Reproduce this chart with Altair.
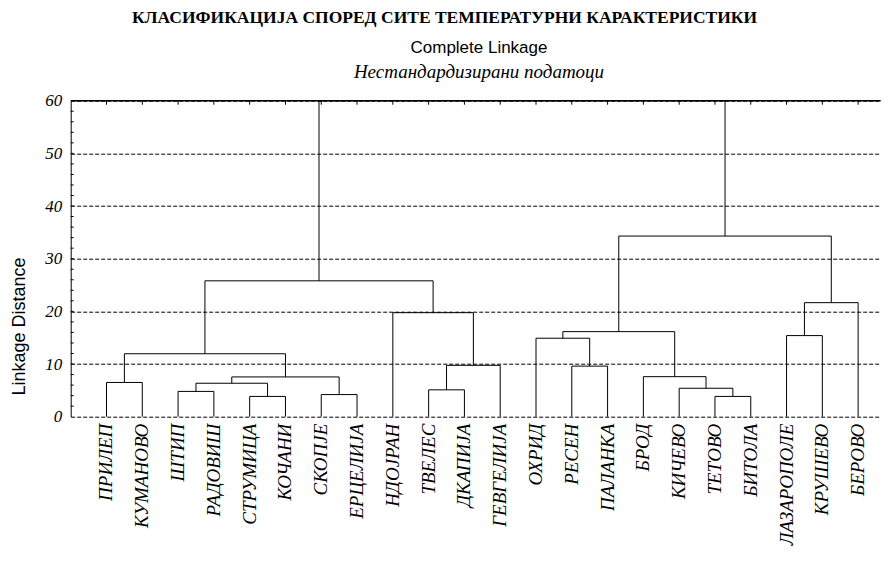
import altair as alt
import pandas as pd

# ---------------- data ----------------
leaves = ["ПРИЛЕП", "КУМАНОВО", "ШТИП", "РАДОВИШ", "СТРУМИЦА", "КОЧАНИ",
          "СКОПЈЕ", "ЕРЦЕЛИЈА", "НДОЈРАН", "ТВЕЛЕС", "ДКАПИЈА", "ГЕВГЕЛИЈА",
          "ОХРИД", "РЕСЕН", "ПАЛАНКА", "БРОД", "КИЧЕВО", "ТЕТОВО", "БИТОЛА",
          "ЛАЗАРОПОЛЕ", "КРУШЕВО", "БЕРОВО"]

# merges: clusters are named c0, c1, ... in order
merge_a = ["ПРИЛЕП", "ШТИП", "СТРУМИЦА", "c1", "СКОПЈЕ", "c3", "c0",
           "ТВЕЛЕС", "c7", "НДОЈРАН", "c6",
           "РЕСЕН", "ОХРИД", "ТЕТОВО", "КИЧЕВО", "БРОД", "c12",
           "ЛАЗАРОПОЛЕ", "c17", "c16", "c10"]
merge_b = ["КУМАНОВО", "РАДОВИШ", "КОЧАНИ", "c2", "ЕРЦЕЛИЈА", "c4", "c5",
           "ДКАПИЈА", "ГЕВГЕЛИЈА", "c8", "c9",
           "ПАЛАНКА", "c11", "БИТОЛА", "c13", "c14", "c15",
           "КРУШЕВО", "БЕРОВО", "c18", "c19"]
merge_h = [6.5, 4.8, 3.85, 6.35, 4.2, 7.55, 11.95,
           5.1, 9.75, 19.75, 25.8,
           9.6, 14.9, 3.85, 5.4, 7.6, 16.15,
           15.4, 21.65, 34.3, 60.0]

y_ticks = [0, 10, 20, 30, 40, 50, 60]

title_main = "КЛАСИФИКАЦИЈА СПОРЕД СИТЕ ТЕМПЕРАТУРНИ КАРАКТЕРИСТИКИ"
title_sub = "Complete Linkage"
title_sub2 = "Нестандардизирани податоци"
y_title = "Linkage Distance"

# ---------------- dendrogram layout ----------------
pos = {name: i + 1 for i, name in enumerate(leaves)}
hgt = {name: 0.0 for name in leaves}
segs = []
for k, (a, b, h) in enumerate(zip(merge_a, merge_b, merge_h)):
    xa, xb = pos[a], pos[b]
    segs.append({"x": xa, "x2": xa, "y": hgt[a], "y2": h})
    segs.append({"x": xb, "x2": xb, "y": hgt[b], "y2": h})
    segs.append({"x": xa, "x2": xb, "y": h, "y2": h})
    pos[f"c{k}"] = (xa + xb) / 2
    hgt[f"c{k}"] = h
seg_df = pd.DataFrame(segs)

leaf_df = pd.DataFrame({"name": leaves, "idx": list(range(1, len(leaves) + 1))})
minor_df = pd.DataFrame({"v": list(range(2, 60, 2))})

W, H = 810, 316
SERIF = "Liberation Serif"
SANS = "Liberation Sans"

xs = alt.Scale(domain=[0, 22.63], nice=False, zero=False)
ys = alt.Scale(domain=[0, 60], nice=False, zero=True)

base_axis = alt.Axis(values=y_ticks, grid=True, gridDash=[4, 2], gridColor="black",
                     gridWidth=1, gridOpacity=1, ticks=False, tickSize=0,
                     domain=True, domainColor="black", domainWidth=1,
                     labelFont=SERIF, labelFontStyle="italic", labelFontSize=17,
                     labelColor="black", labelPadding=9,
                     title=y_title, titleFont=SANS, titleFontSize=18,
                     titleFontWeight="normal", titleColor="black",
                     titleAngle=270, titleX=-51.7, titleY=225.3,
                     titleAlign="center", titleBaseline="middle")

tree = alt.Chart(seg_df).mark_rule(color="black", strokeWidth=1).encode(
    x=alt.X("x:Q", scale=xs, axis=None),
    x2="x2:Q",
    y=alt.Y("y:Q", scale=ys, axis=base_axis),
    y2="y2:Q",
)

top_line = alt.Chart(pd.DataFrame({"v": [60]})).mark_rule(
    color="black", strokeWidth=1.5).encode(
    y=alt.Y("v:Q", scale=ys), x=alt.value(0), x2=alt.value(W))

minor = alt.Chart(minor_df).mark_rule(color="black", strokeWidth=1).encode(
    y=alt.Y("v:Q", scale=ys), x=alt.value(0), x2=alt.value(3))

top_ticks = alt.Chart(leaf_df).mark_rule(color="black", strokeWidth=1).encode(
    x=alt.X("idx:Q", scale=xs), y=alt.value(0), y2=alt.value(4))

labels = alt.Chart(leaf_df).mark_text(
    angle=270, align="right", baseline="middle", font=SERIF,
    fontStyle="italic", fontSize=19, color="black").encode(
    x=alt.X("idx:Q", scale=xs), y=alt.value(H + 7), text="name:N")

t1 = alt.Chart(pd.DataFrame({"t": [title_main]})).mark_text(
    font=SERIF, fontWeight="bold", fontSize=17.5, align="center",
    baseline="alphabetic", color="black").encode(
    text="t:N", x=alt.value(373.8), y=alt.value(-77.5))
t2 = alt.Chart(pd.DataFrame({"t": [title_sub]})).mark_text(
    font=SANS, fontSize=17, align="center", baseline="alphabetic",
    color="black").encode(text="t:N", x=alt.value(408.3), y=alt.value(-48))
t3 = alt.Chart(pd.DataFrame({"t": [title_sub2]})).mark_text(
    font=SERIF, fontStyle="italic", fontSize=19, align="center",
    baseline="alphabetic", color="black").encode(
    text="t:N", x=alt.value(408.3), y=alt.value(-23))

chart = alt.layer(tree, top_line, minor, top_ticks, labels, t1, t2, t3).properties(
    width=W, height=H,
    autosize=alt.AutoSizeParams(type="none"),
    padding={"left": 62.7, "top": 92.7, "right": 0, "bottom": 134},
    background="white",
).configure_view(stroke=None)

chart.save("out.html", embed_options={"renderer": "svg", "actions": False})
